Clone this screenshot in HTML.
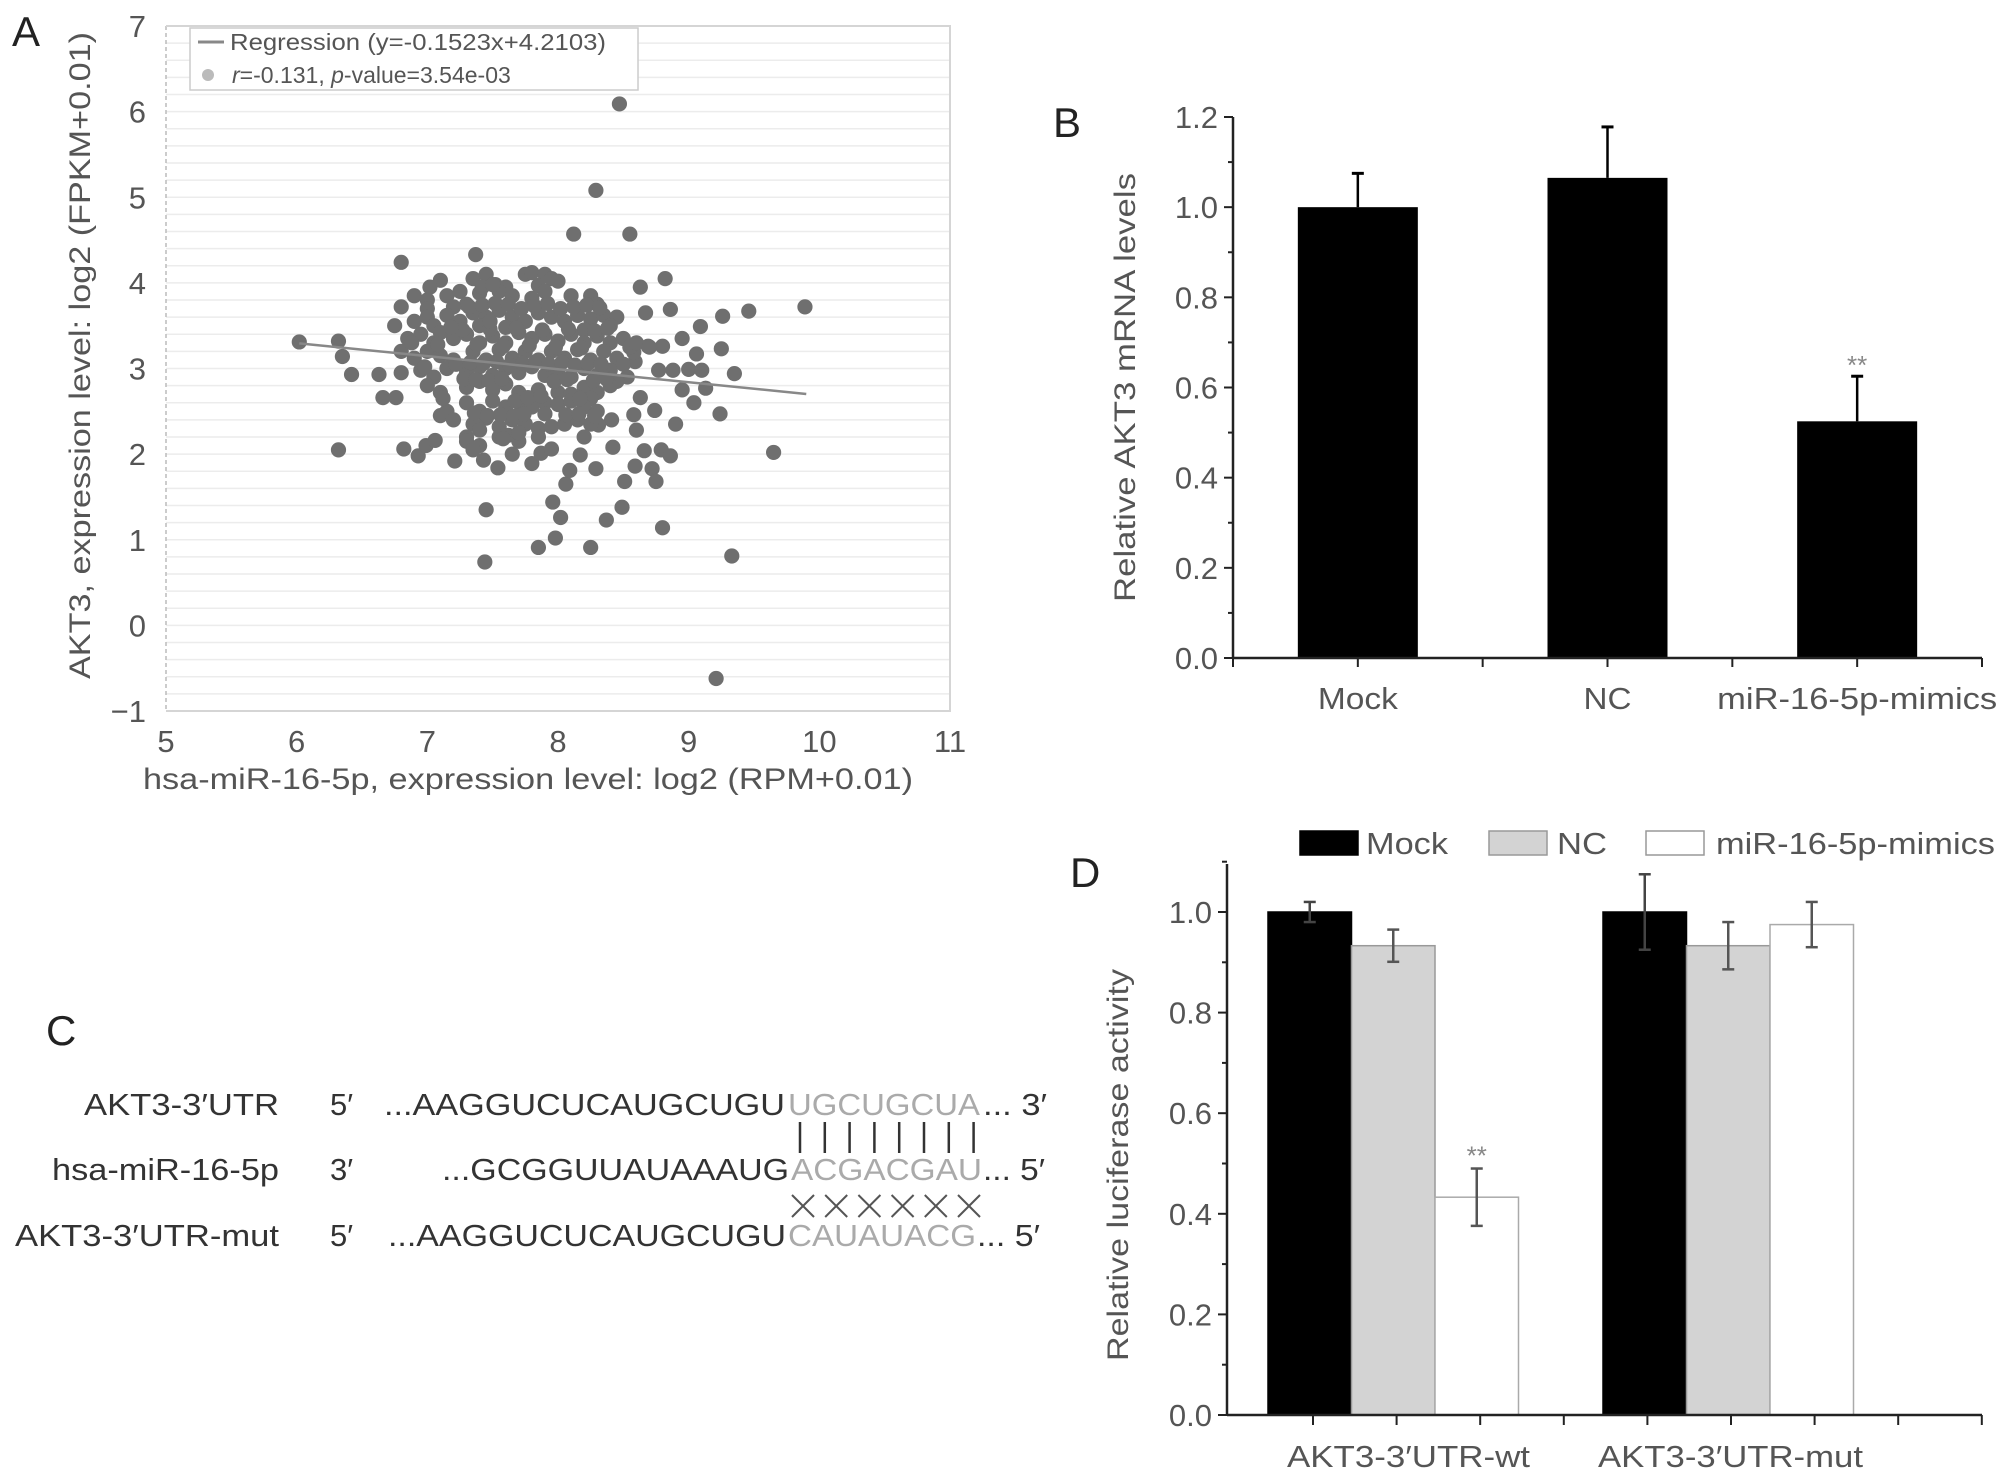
<!DOCTYPE html>
<html><head><meta charset="utf-8"><style>
html,body{margin:0;padding:0;background:#fff;}
svg{display:block;font-family:"Liberation Sans",sans-serif;}
</style></head><body>
<svg id="fig" width="2008" height="1483" viewBox="0 0 2008 1483" xmlns="http://www.w3.org/2000/svg">
<g id="pa"></g>
<g id="pb"></g>
<g id="pc">
  <text x="46" y="1045" font-size="42" fill="#222">C</text>
  <g font-size="31" fill="#333">
    <text x="84" y="1115" textLength="195" lengthAdjust="spacingAndGlyphs">AKT3-3′UTR</text>
    <text x="52" y="1180" textLength="227" lengthAdjust="spacingAndGlyphs">hsa-miR-16-5p</text>
    <text x="15" y="1246" textLength="264" lengthAdjust="spacingAndGlyphs">AKT3-3′UTR-mut</text>
    <text x="330" y="1115">5′</text>
    <text x="330" y="1180">3′</text>
    <text x="330" y="1246">5′</text>
    <text x="384" y="1115" textLength="401" lengthAdjust="spacingAndGlyphs">...AAGGUCUCAUGCUGU</text>
    <text x="788" y="1115" textLength="192" lengthAdjust="spacingAndGlyphs" fill="#aaa">UGCUGCUA</text>
    <text x="983" y="1115" textLength="64" lengthAdjust="spacingAndGlyphs">... 3′</text>
    <text x="442" y="1180" textLength="347" lengthAdjust="spacingAndGlyphs">...GCGGUUAUAAAUG</text>
    <text x="791" y="1180" textLength="191" lengthAdjust="spacingAndGlyphs" fill="#aaa">ACGACGAU</text>
    <text x="983" y="1180" textLength="62" lengthAdjust="spacingAndGlyphs">... 5′</text>
    <text x="388" y="1246" textLength="398" lengthAdjust="spacingAndGlyphs">...AAGGUCUCAUGCUGU</text>
    <text x="788" y="1246" textLength="188" lengthAdjust="spacingAndGlyphs" fill="#aaa">CAUAUACG</text>
    <text x="977" y="1246" textLength="63" lengthAdjust="spacingAndGlyphs">... 5′</text>
  </g>
  <g id="pairs" stroke="#333" stroke-width="2.5"></g>
  <g id="crosses" stroke="#555" stroke-width="2"></g>
</g>
<g id="pd"></g>
</svg>
<script>
// ---------- Panel A data ----------
const scatterX = [8.47,8.29,8.12,8.55,6.80,7.37,6.02,6.32,6.35,6.42,6.32,9.89,9.46,9.26,9.09,9.65,9.33,9.21,9.24,9.25,9.35,9.13,9.04,7.44,7.45,7.85,7.98,8.02,7.96,8.25,8.37,8.49,8.80,8.06,8.09,8.82,8.63,8.86,8.67,6.66,6.76,6.63,6.75,6.80,6.82,6.93,6.99,7.06,7.21,7.54,7.43,7.80,7.87,7.95,8.17,8.29,8.42,8.51,8.59,8.72,8.75,8.66,8.79,8.86,8.90,8.74,8.63,8.77,8.88,8.95,9.00,9.10,9.06,8.95,8.80,8.69,8.59,8.53,8.58,8.41,8.31,8.58,8.60,
7.1,7.35,7.45,7.52,7.75,7.8,7.9,7.95,8.0,7.6,7.85,
6.9,7.0,7.15,7.25,7.4,7.55,7.65,7.8,7.9,8.1,8.25,8.3,7.3,7.0,7.2,
6.9,7.0,7.05,7.15,7.25,7.35,7.45,7.55,7.65,7.75,7.85,7.95,8.05,8.15,8.25,8.35,8.45,8.4,8.2,7.4,7.6,
6.85,6.95,7.05,7.1,7.2,7.3,7.4,7.5,7.6,7.7,7.8,7.9,8.0,8.1,8.2,8.3,8.4,8.5,8.55,8.6,8.7,
6.8,6.9,7.0,7.1,7.2,7.35,7.45,7.55,7.65,7.75,7.85,7.95,8.05,8.15,8.25,8.35,8.45,8.5,
6.8,6.95,7.05,7.15,7.3,7.4,7.5,7.6,7.7,7.8,7.9,8.0,8.1,8.2,8.3,8.4,8.45,
7.0,7.1,7.3,7.4,7.5,7.6,7.7,7.85,8.0,8.1,8.2,8.3,8.4,8.25,
7.1,7.3,7.4,7.5,7.6,7.7,7.8,7.9,8.0,8.1,8.2,8.3,7.15,
7.2,7.35,7.45,7.55,7.65,7.75,7.85,7.95,8.05,8.15,8.25,7.3,7.4,
7.3,7.4,7.55,7.7,7.85,8.2,7.35,7.65,
7.27,7.38,7.48,7.58,7.68,7.78,7.88,7.98,8.08,8.18,8.28,8.38,
7.22,7.33,7.43,7.53,7.63,7.73,7.83,7.93,8.03,8.13,8.23,8.33,
7.28,7.37,7.47,7.57,7.67,7.77,7.87,7.97,8.07,8.17,8.27,8.37,
7.32,7.42,7.52,7.62,7.72,7.82,7.92,8.02,8.12,8.22,8.32,
7.36,7.46,7.56,7.66,7.74,7.9,8.06,8.16,8.28,
7.42,7.5,7.62,7.7,7.58,7.48,6.98,7.08,7.18,6.88,7.12,7.02];
const scatterY = [6.09,5.08,4.57,4.57,4.24,4.33,3.31,3.32,3.14,2.93,2.05,3.72,3.67,3.61,3.49,2.02,0.81,-0.62,2.47,3.23,2.94,2.77,2.60,0.74,1.35,0.91,1.02,1.26,1.44,0.91,1.23,1.38,1.14,1.65,1.81,4.05,3.95,3.69,3.65,2.66,2.66,2.93,3.50,3.72,2.06,1.98,2.10,2.16,1.92,1.84,1.93,1.89,2.01,2.06,1.99,1.83,2.08,1.68,1.86,1.83,1.68,2.04,2.05,1.98,2.35,2.51,2.66,2.98,2.98,2.75,2.99,2.98,3.17,3.35,3.26,3.26,3.08,2.90,3.19,2.40,2.34,2.46,2.28,
4.03,4.05,4.1,3.98,4.1,4.12,4.1,4.05,4.02,3.95,3.97,
3.85,3.8,3.85,3.9,3.88,3.9,3.85,3.82,3.9,3.85,3.85,3.75,3.75,3.7,3.72,
3.55,3.6,3.5,3.62,3.55,3.65,3.6,3.68,3.6,3.55,3.65,3.6,3.55,3.62,3.58,3.62,3.6,3.5,3.45,3.5,3.48,
3.35,3.4,3.3,3.42,3.35,3.4,3.3,3.38,3.3,3.42,3.35,3.4,3.32,3.4,3.3,3.38,3.3,3.35,3.25,3.3,3.25,
3.2,3.12,3.2,3.15,3.1,3.2,3.1,3.22,3.12,3.2,3.1,3.2,3.12,3.22,3.1,3.2,3.12,3.05,
2.95,2.98,2.9,3.0,2.95,3.02,2.92,3.0,2.95,3.02,2.92,2.98,2.9,3.0,2.92,2.98,2.85,
2.8,2.72,2.78,2.85,2.75,2.82,2.72,2.75,2.72,2.7,2.78,2.72,2.8,2.65,
2.45,2.6,2.5,2.62,2.55,2.6,2.55,2.6,2.58,2.62,2.55,2.5,2.5,
2.4,2.35,2.42,2.32,2.4,2.35,2.3,2.32,2.35,2.4,2.35,2.2,2.28,
2.15,2.1,2.2,2.15,2.2,2.2,2.05,2.0,
3.45,3.28,3.46,3.26,3.47,3.27,3.45,3.25,3.46,3.24,3.44,3.47,
3.05,3.07,3.06,3.08,3.04,3.06,3.08,3.05,3.07,3.04,3.06,3.05,
2.88,2.87,2.86,2.88,2.62,2.66,2.68,2.85,2.87,2.65,2.86,2.88,
3.72,3.74,3.76,3.75,3.7,3.73,3.76,3.7,3.72,3.74,3.71,
2.48,2.45,2.46,2.44,2.47,2.47,2.46,2.47,2.45,
3.95,3.98,2.22,2.25,2.18,3.55,3.02,3.28,3.48,3.3,2.65,3.95];
const regSlope = -0.1523, regIntercept = 4.2103, regX = [6.02, 9.9];
const aXTicks = [5,6,7,8,9,10,11];
const aYTicks = [-1,0,1,2,3,4,5,6,7];
// ---------- Panel B data ----------
const bCats = ["Mock","NC","miR-16-5p-mimics"];
const bVals = [1.0, 1.065, 0.525];
const bErr = [0.075, 0.113, 0.1];
const bYTicks = [0.0,0.2,0.4,0.6,0.8,1.0,1.2];
// ---------- Panel D data ----------
const dGroups = ["AKT3-3′UTR-wt","AKT3-3′UTR-mut"];
const dSeries = ["Mock","NC","miR-16-5p-mimics"];
const dMock = [1.0, 1.0];
const dNC = [0.933, 0.933];
const dMimic = [0.433, 0.975];
const dMockErr = [0.02, 0.075];
const dNCErr = [0.032, 0.047];
const dMimicErr = [0.057, 0.045];
const dYTicks = [0.0,0.2,0.4,0.6,0.8,1.0];

const NS="http://www.w3.org/2000/svg";
function mk(parent, tag, attrs, text){
  const e=document.createElementNS(NS,tag);
  for(const k in attrs) e.setAttribute(k,attrs[k]);
  if(text!==undefined) e.textContent=text;
  parent.appendChild(e); return e;
}

// ===== Panel A =====
(function(){
  const g=document.getElementById('pa');
  const x0=166, x1=950, yTop=26, yBot=711;
  const sx=v=>x0+(v-5)/6*(x1-x0);
  const sy=v=>yBot-(v+1)/8*(yBot-yTop);
  for(let v=-1;v<=7.001;v+=0.2){
    const l=mk(g,'line',{x1:x0,x2:x1,y1:sy(v),y2:sy(v),stroke:'#ececec','stroke-width':1.5});
    
    
  }
  const lb=mk(g,'line',{x1:x0,x2:x0,y1:yTop,y2:yBot,stroke:'#bbb','stroke-width':1.5,'stroke-dasharray':'4 3'});
  
  
  const bx=mk(g,'polyline',{points:`${x0},${yTop} ${x1},${yTop} ${x1},${yBot} ${x0},${yBot}`,fill:'none',stroke:'#d5d5d5','stroke-width':2});
  
  
  const pts=mk(g,'g',{fill:'#6f6f6f'});
  
  
  for(let i=0;i<scatterX.length;i++){
    const c=mk(pts,'circle',{cx:sx(scatterX[i]),cy:sy(scatterY[i]),r:7.6});
    
    
  }
  const rl=mk(g,'line',{x1:sx(regX[0]),y1:sy(regSlope*regX[0]+regIntercept),x2:sx(regX[1]),y2:sy(regSlope*regX[1]+regIntercept),stroke:'#888','stroke-width':2.5});
  
  
  aXTicks.forEach(v=>{
    const t=mk(g,'text',{x:sx(v),y:752,'font-size':31,fill:'#555','text-anchor':'middle'},String(v));
    
    
  });
  aYTicks.forEach(v=>{
    const t=mk(g,'text',{x:x0-20,y:sy(v)+11,'font-size':31,fill:'#555','text-anchor':'end'},v<0?'−'+Math.abs(v):String(v));
    
    
  });
  const xt=mk(g,'text',{x:143,y:789,'font-size':30,fill:'#555',textLength:770,lengthAdjust:'spacingAndGlyphs'},'hsa-miR-16-5p, expression level: log2 (RPM+0.01)');
  
  
  const yt=mk(g,'text',{x:0,y:0,'font-size':30,fill:'#555',textLength:647,lengthAdjust:'spacingAndGlyphs',transform:'translate(90,679) rotate(-90)'},'AKT3, expression level: log2 (FPKM+0.01)');
  
  
  const lab=mk(g,'text',{x:12,y:46,'font-size':42,fill:'#222'},'A');
  
  
  const lg=mk(g,'g',{});
  
  
  mk(lg,'rect',{x:190,y:28,width:448,height:62,fill:'#fff',stroke:'#ccc','stroke-width':1.5});
  mk(lg,'line',{x1:198,x2:224,y1:42,y2:42,stroke:'#888','stroke-width':3});
  const t1=mk(lg,'text',{x:230,y:50,'font-size':23,fill:'#555',textLength:376,lengthAdjust:'spacingAndGlyphs'},'Regression (y=-0.1523x+4.2103)');
  
  
  mk(lg,'circle',{cx:208,cy:75,r:6,fill:'#bbb'});
  const t2=mk(lg,'text',{x:232,y:83,'font-size':23,fill:'#555'});
  
  
  t2.innerHTML='<tspan font-style="italic">r</tspan>=-0.131, <tspan font-style="italic">p</tspan>-value=3.54e-03';
})();

// ===== Panel B =====
(function(){
  const g=document.getElementById('pb');
  const ax=1233, axEnd=1982, y0=658, yTop=117;
  const sy=v=>y0-v/1.2*(y0-yTop);
  const catW=(axEnd-ax)/3, barW=120;
  const cx=i=>ax+catW*(i+0.5);
  const labW=[80,48,280];
  bVals.forEach((v,i)=>{
    const x=cx(i);
    const e=mk(g,'line',{x1:x,x2:x,y1:sy(v),y2:sy(v+bErr[i]),stroke:'#000','stroke-width':2.5});
    
    
    mk(g,'line',{x1:x-6,x2:x+6,y1:sy(v+bErr[i]),y2:sy(v+bErr[i]),stroke:'#000','stroke-width':3});
    const r=mk(g,'rect',{x:x-barW/2,y:sy(v),width:barW,height:y0-sy(v),fill:'#000'});
    
    
    const t=mk(g,'text',{x:x-labW[i]/2,y:709,'font-size':31,fill:'#555',textLength:labW[i],lengthAdjust:'spacingAndGlyphs'},bCats[i]);
    
    
  });
  const st=mk(g,'text',{x:cx(2),y:sy(bVals[2]+bErr[2])-2,'font-size':26,fill:'#888','text-anchor':'middle'},'**');
  
  
  const ya=mk(g,'line',{x1:ax,x2:ax,y1:yTop,y2:y0,stroke:'#222','stroke-width':2.5});
  
  
  const xa=mk(g,'line',{x1:ax,x2:axEnd,y1:y0,y2:y0,stroke:'#222','stroke-width':2.5});
  
  
  for(let k=0;k<=6;k++){ mk(g,'line',{x1:ax+catW*k/2,x2:ax+catW*k/2,y1:y0,y2:y0+9,stroke:'#222','stroke-width':2}); }
  for(let v=0;v<=1.2001;v+=0.1){ mk(g,'line',{x1:ax-(Math.round(v*10)%2?5:9),x2:ax,y1:sy(v),y2:sy(v),stroke:'#222','stroke-width':2}); }
  bYTicks.forEach(v=>{
    const t=mk(g,'text',{x:ax-15,y:sy(v)+11,'font-size':31,fill:'#555','text-anchor':'end'},v.toFixed(1));
    
    
  });
  const yt=mk(g,'text',{x:0,y:0,'font-size':30,fill:'#555',textLength:429,lengthAdjust:'spacingAndGlyphs',transform:'translate(1135,602) rotate(-90)'},'Relative AKT3 mRNA levels');
  
  
  const lab=mk(g,'text',{x:1053,y:137,'font-size':42,fill:'#222'},'B');
  
  
})();

// ===== Panel C pairing marks =====
(function(){
  const p=document.getElementById('pairs');
  for(let i=0;i<8;i++){
    const l=mk(p,'line',{x1:800+i*24.8,x2:800+i*24.8,y1:1122,y2:1153});
    
    
  }
  const c=document.getElementById('crosses');
  for(let i=0;i<6;i++){
    const x=803+i*33.2;
    const gg=mk(c,'g',{});
    
    
    mk(gg,'line',{x1:x-11,x2:x+11,y1:1195,y2:1217});
    mk(gg,'line',{x1:x+11,x2:x-11,y1:1195,y2:1217});
  }
})();

// ===== Panel D =====
(function(){
  const g=document.getElementById('pd');
  const ax=1227, axEnd=1982, y0=1415, y1v=912, yTop=864;
  const sy=v=>y0-v*(y0-y1v);
  const barW=83.5;
  const groupStart=[1268,1603];
  const series=[dMock,dNC,dMimic], errs=[dMockErr,dNCErr,dMimicErr];
  const fills=['#000','#d3d3d3','#fff'], strokes=['#000','#999','#aaa'];
  const gLabW=[243,265], gLabX=[1287,1598];
  dGroups.forEach((gname,gi)=>{
    series.forEach((s,si)=>{
      const x=groupStart[gi]+si*barW;
      const r=mk(g,'rect',{x:x,y:sy(s[gi]),width:barW,height:y0-sy(s[gi]),fill:fills[si],stroke:strokes[si],'stroke-width':1.5});
      
      
      const cx=x+barW/2, lo=sy(s[gi]-errs[si][gi]), hi=sy(s[gi]+errs[si][gi]);
      const eg=mk(g,'g',{stroke:si===0?'#444':'#555','stroke-width':2.5});
      
      
      mk(eg,'line',{x1:cx,x2:cx,y1:lo,y2:hi});
      mk(eg,'line',{x1:cx-6,x2:cx+6,y1:lo,y2:lo});
      mk(eg,'line',{x1:cx-6,x2:cx+6,y1:hi,y2:hi});
    });
    const t=mk(g,'text',{x:gLabX[gi],y:1467,'font-size':31,fill:'#555',textLength:gLabW[gi],lengthAdjust:'spacingAndGlyphs'},gname);
    
    
  });
  const mx=groupStart[0]+2.5*barW;
  const st=mk(g,'text',{x:mx,y:sy(dMimic[0]+dMimicErr[0])-4,'font-size':26,fill:'#888','text-anchor':'middle'},'**');
  
  
  const ya=mk(g,'line',{x1:ax,x2:ax,y1:yTop,y2:y0,stroke:'#222','stroke-width':2.5});
  
  
  const xa=mk(g,'line',{x1:ax,x2:axEnd,y1:y0,y2:y0,stroke:'#222','stroke-width':2.5});
  
  
  for(let k=0;k<9;k++){ const x=1313+k*83.6; mk(g,'line',{x1:x,x2:x,y1:y0,y2:y0+10,stroke:'#222','stroke-width':2}); }
  for(let v=0;v<=1.1001;v+=0.1){ mk(g,'line',{x1:ax-(Math.round(v*10)%2?5:9),x2:ax,y1:sy(v),y2:sy(v),stroke:'#222','stroke-width':2}); }
  dYTicks.forEach(v=>{
    const t=mk(g,'text',{x:ax-15,y:sy(v)+11,'font-size':31,fill:'#555','text-anchor':'end'},v.toFixed(1));
    
    
  });
  const yt=mk(g,'text',{x:0,y:0,'font-size':30,fill:'#555',textLength:392,lengthAdjust:'spacingAndGlyphs',transform:'translate(1128,1361) rotate(-90)'},'Relative luciferase activity');
  
  
  const lab=mk(g,'text',{x:1070,y:887,'font-size':42,fill:'#222'},'D');
  
  
  const lx=[1300,1489,1646], tx=[1366,1557,1716], tw=[82,50,279];
  dSeries.forEach((s,i)=>{
    const le=mk(g,'g',{});
    
    
    mk(le,'rect',{x:lx[i],y:831,width:58,height:24,fill:fills[i],stroke:i===0?'#000':'#999','stroke-width':1.5});
    mk(le,'text',{x:tx[i],y:854,'font-size':31,fill:'#555',textLength:tw[i],lengthAdjust:'spacingAndGlyphs'},s);
  });
})();
</script>
</body></html>
